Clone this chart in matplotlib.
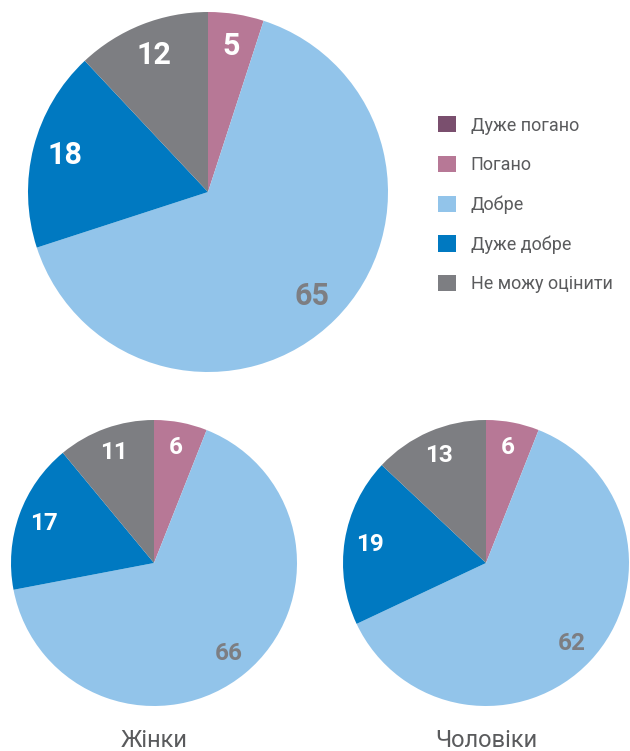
import matplotlib.pyplot as plt
from matplotlib.patches import Patch

categories = ["Дуже погано", "Погано", "Добре", "Дуже добре", "Не можу оцінити"]
colors = ["#7a4f6e", "#b77896", "#92c4ea", "#0079c1", "#7d7e82"]

total = [0, 5, 65, 18, 12]
women = [0, 6, 66, 17, 11]
men = [0, 6, 62, 19, 13]
group_titles = ["Жінки", "Чоловіки"]

FONT = ["Roboto", "DejaVu Sans"]
TEXT_GRAY = "#5a5b5d"


def draw_pie(ax, values, fontsize):
    vals = [v for v in values if v > 0]
    cols = [c for v, c in zip(values, colors) if v > 0]
    wedges, texts, autotexts = ax.pie(
        vals, colors=cols, startangle=90, counterclock=False,
        autopct=lambda p: f"{round(p)}", pctdistance=0.82,
        wedgeprops=dict(linewidth=0),
        textprops=dict(fontsize=fontsize, fontweight="bold", family=FONT))
    for t, c in zip(autotexts, cols):
        t.set_color("#7d7e82" if c == "#92c4ea" else "white")
    ax.set_aspect("equal")
    ax.set_xlim(-1, 1)
    ax.set_ylim(-1, 1)
    ax.axis("off")


fig = plt.figure(figsize=(6.3, 7.51), dpi=100)

ax_top = fig.add_axes([28 / 630, 379 / 751, 360 / 630, 360 / 751])
draw_pie(ax_top, total, 22)

ax_w = fig.add_axes([11 / 630, 45 / 751, 286 / 630, 286 / 751])
draw_pie(ax_w, women, 17.5)
ax_m = fig.add_axes([343 / 630, 45 / 751, 286 / 630, 286 / 751])
draw_pie(ax_m, men, 17.5)

fig.text(154 / 630, 4 / 751, group_titles[0], ha="center", va="baseline",
         fontsize=17, color=TEXT_GRAY, family=FONT)
fig.text(486 / 630, 4 / 751, group_titles[1], ha="center", va="baseline",
         fontsize=17, color=TEXT_GRAY, family=FONT)

handles = [Patch(facecolor=c, edgecolor="none") for c in colors]
leg = fig.legend(handles, categories, loc="upper left",
                 bbox_to_anchor=(422 / 630, 651 / 751), frameon=False,
                 handlelength=1.0, handleheight=1.0, handletextpad=0.8,
                 labelspacing=1.18, prop=dict(family=FONT, size=13))
for t in leg.get_texts():
    t.set_color(TEXT_GRAY)

fig.savefig("out.png", dpi=100)
